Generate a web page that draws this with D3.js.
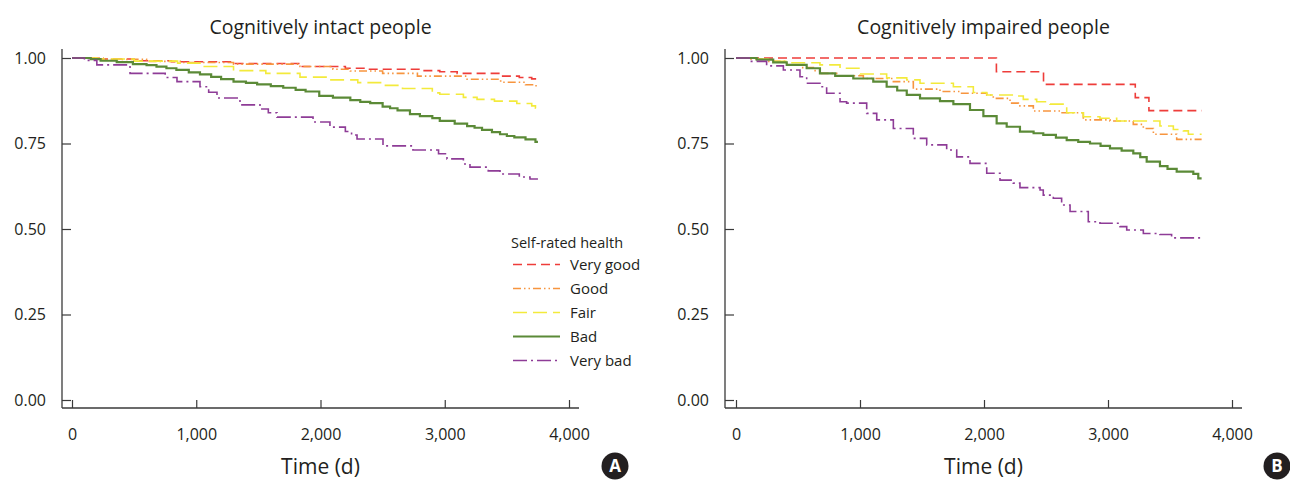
<!DOCTYPE html>
<html>
<head>
<meta charset="utf-8">
<script src="https://cdn.jsdelivr.net/npm/d3@7"></script>
<style>
  body { margin: 0; background: #fff; }
  text { font-family: "Open Sans", "Noto Sans", sans-serif; fill: #231f20; }
</style>
</head>
<body>
<div id="chart"></div>
<script>
// survival curves, [time in days, proportion surviving]
const groups = ["Very good", "Good", "Fair", "Bad", "Very bad"]
const xTicks = [0, 1000, 2000, 3000, 4000]
const yTicks = [0, 0.25, 0.5, 0.75, 1]

const intactVeryGood = [[0,1],[200,0.997],[500,0.992],[800,0.989],[1300,0.984],[1835,0.975],[2200,0.970],[2370,0.967],[2800,0.963],[2960,0.960],[3100,0.955],[3450,0.947],[3600,0.943],[3700,0.939],[3750,0.939]]
const intactGood = [[0,1],[250,0.996],[600,0.990],[900,0.987],[1300,0.982],[1835,0.975],[2100,0.967],[2240,0.962],[2500,0.955],[2780,0.947],[3180,0.938],[3450,0.929],[3650,0.922],[3720,0.919],[3750,0.919]]
const intactFair = [[0,1],[200,0.997],[500,0.991],[850,0.985],[1030,0.975],[1300,0.963],[1560,0.955],[1835,0.944],[2076,0.936],[2300,0.928],[2500,0.920],[2660,0.911],[2900,0.898],[2960,0.894],[3150,0.885],[3260,0.879],[3400,0.874],[3580,0.867],[3700,0.860],[3730,0.853],[3750,0.853]]
const intactBad = [[0,1],[150,0.997],[230,0.992],[360,0.988],[490,0.982],[600,0.979],[680,0.975],[760,0.970],[840,0.965],[940,0.958],[1030,0.952],[1120,0.945],[1200,0.938],[1300,0.931],[1400,0.927],[1490,0.923],[1600,0.918],[1700,0.913],[1800,0.907],[1880,0.902],[1990,0.889],[2100,0.884],[2240,0.877],[2320,0.872],[2400,0.868],[2500,0.858],[2560,0.853],[2620,0.847],[2720,0.836],[2800,0.830],[2900,0.824],[2960,0.816],[3080,0.808],[3180,0.801],[3240,0.796],[3300,0.790],[3380,0.783],[3445,0.777],[3500,0.772],[3560,0.768],[3650,0.762],[3730,0.755],[3750,0.755]]
const intactVeryBad = [[0,1],[100,0.993],[200,0.980],[467,0.955],[750,0.943],[845,0.931],[1030,0.916],[1100,0.900],[1167,0.883],[1352,0.863],[1513,0.851],[1580,0.840],[1650,0.827],[1940,0.813],[2076,0.798],[2200,0.785],[2250,0.775],[2294,0.763],[2503,0.743],[2744,0.731],[2950,0.720],[3018,0.705],[3150,0.690],[3203,0.681],[3350,0.670],[3445,0.661],[3600,0.652],[3686,0.646],[3750,0.646]]

const impairedVeryGood = [[0,1],[2100,0.960],[2480,0.923],[3220,0.884],[3330,0.846],[3755,0.846]]
const impairedGood = [[0,1],[120,0.997],[250,0.990],[409,0.980],[520,0.972],[624,0.963],[677,0.955],[812,0.948],[1027,0.940],[1269,0.931],[1430,0.909],[1645,0.902],[1806,0.897],[2022,0.892],[2075,0.882],[2210,0.868],[2277,0.860],[2398,0.845],[2613,0.840],[2801,0.819],[3016,0.816],[3204,0.806],[3285,0.794],[3366,0.777],[3554,0.762],[3755,0.762]]
const impairedFair = [[0,1],[150,0.997],[300,0.990],[409,0.986],[677,0.980],[839,0.970],[1000,0.953],[1215,0.942],[1377,0.936],[1484,0.926],[1753,0.916],[1914,0.899],[2022,0.892],[2264,0.889],[2317,0.879],[2425,0.872],[2532,0.865],[2667,0.840],[2801,0.828],[2935,0.824],[3070,0.816],[3419,0.801],[3527,0.791],[3608,0.787],[3648,0.777],[3755,0.777]]
const impairedBad = [[0,1],[167,0.995],[300,0.987],[409,0.980],[570,0.970],[677,0.955],[800,0.948],[946,0.940],[1107,0.931],[1215,0.916],[1300,0.905],[1377,0.892],[1484,0.882],[1645,0.874],[1753,0.865],[1887,0.848],[1995,0.830],[2102,0.809],[2183,0.799],[2290,0.785],[2400,0.780],[2478,0.775],[2580,0.767],[2667,0.760],[2760,0.755],[2855,0.750],[2940,0.743],[3016,0.736],[3110,0.729],[3204,0.721],[3260,0.710],[3312,0.697],[3419,0.684],[3480,0.676],[3554,0.668],[3688,0.661],[3728,0.648],[3755,0.648]]
const impairedVeryBad = [[0,1],[113,0.990],[247,0.977],[382,0.965],[516,0.945],[570,0.926],[677,0.916],[731,0.897],[839,0.872],[892,0.868],[1054,0.838],[1135,0.819],[1269,0.794],[1430,0.765],[1538,0.746],[1699,0.731],[1780,0.711],[1887,0.692],[2022,0.663],[2129,0.643],[2236,0.634],[2290,0.621],[2452,0.614],[2478,0.599],[2559,0.590],[2626,0.570],[2694,0.551],[2841,0.521],[2935,0.517],[3097,0.507],[3151,0.497],[3285,0.487],[3419,0.484],[3513,0.474],[3755,0.474]]

const colours = ["#ee3d3a", "#f7953f", "#f3ea3c", "#5b8a37", "#8e3c97"]
const dashes = ["9,5", "8,3,1.5,3,1.5,3", "14,6", null, "14,4,2,4"]
const widths = [1.6, 1.6, 1.6, 2.2, 1.6]

const panels = [
  { title: "Cognitively intact people", badge: "A", axisX: 62, x0: 72, x1: 569, xEnd: 579, badgeX: 615, legend: true,
    series: [intactVeryGood, intactGood, intactFair, intactBad, intactVeryBad] },
  { title: "Cognitively impaired people", badge: "B", axisX: 725, x0: 736, x1: 1232, xEnd: 1242, badgeX: 1277, legend: false,
    series: [impairedVeryGood, impairedGood, impairedFair, impairedBad, impairedVeryBad] }
]

let svg = d3.select("#chart")
  .append("svg")
  .attr("width", 1290)
  .attr("height", 486)

let y = d3.scaleLinear().domain([0, 1]).range([400, 58])
let axisY = 408

panels.forEach(p => {
  let x = d3.scaleLinear().domain([0, 4000]).range([p.x0, p.x1])
  let g = svg.append("g")

  // axis lines, drawn apart from d3's domain path because they overrun the tick range
  g.append("line")
    .attr("x1", p.axisX).attr("x2", p.axisX)
    .attr("y1", 49).attr("y2", axisY)
    .attr("stroke", "#3a3a3a").attr("stroke-width", 1.3)
  g.append("line")
    .attr("x1", p.axisX).attr("x2", p.xEnd)
    .attr("y1", axisY).attr("y2", axisY)
    .attr("stroke", "#3a3a3a").attr("stroke-width", 1.3)

  let ya = g.append("g")
    .attr("transform", "translate(" + p.axisX + ",0)")
    .call(d3.axisLeft(y).tickValues(yTicks).tickFormat(d3.format(".2f")).tickSizeInner(-9).tickSizeOuter(0).tickPadding(16))
  let xa = g.append("g")
    .attr("transform", "translate(0," + axisY + ")")
    .call(d3.axisBottom(x).tickValues(xTicks).tickFormat(d3.format(",")).tickSizeInner(-8).tickSizeOuter(0).tickPadding(21))

  ;[ya, xa].forEach(a => {
    a.select(".domain").remove()
    a.selectAll(".tick line").attr("stroke", "#3a3a3a").attr("stroke-width", 1.2)
    a.selectAll(".tick text").attr("font-family", "Open Sans").attr("font-size", 16).attr("fill", "#231f20")
  })

  let line = d3.line()
    .x(d => x(d[0]))
    .y(d => y(d[1]))
    .curve(d3.curveStepAfter)

  g.selectAll("path.km")
    .data(p.series)
    .enter()
    .append("path")
    .attr("class", "km")
    .attr("d", line)
    .attr("fill", "none")
    .attr("stroke", (d, i) => colours[i])
    .attr("stroke-width", (d, i) => widths[i])
    .attr("stroke-dasharray", (d, i) => dashes[i])

  g.append("text")
    .attr("x", (p.axisX + p.xEnd) / 2)
    .attr("y", 34)
    .attr("text-anchor", "middle")
    .attr("font-size", 19.5)
    .text(p.title)

  g.append("text")
    .attr("x", (p.axisX + p.xEnd) / 2)
    .attr("y", 474)
    .attr("text-anchor", "middle")
    .attr("font-size", 21)
    .text("Time (d)")

  g.append("circle")
    .attr("cx", p.badgeX).attr("cy", 466).attr("r", 13.5)
    .attr("fill", "#231f20")
  g.append("text")
    .attr("x", p.badgeX).attr("y", 472)
    .attr("text-anchor", "middle")
    .attr("font-size", 17)
    .attr("font-weight", "bold")
    .style("fill", "#fff")
    .text(p.badge)

  if (p.legend) {
    let lg = svg.append("g")
    lg.append("text")
      .attr("x", 511).attr("y", 248)
      .attr("font-size", 14.5)
      .text("Self-rated health")
    let row = lg.selectAll("g.item")
      .data(groups)
      .enter()
      .append("g")
      .attr("transform", (d, i) => "translate(0," + (264.5 + i * 24) + ")")
    row.append("line")
      .attr("x1", 513).attr("x2", 560)
      .attr("stroke", (d, i) => colours[i])
      .attr("stroke-width", (d, i) => widths[i])
      .attr("stroke-dasharray", (d, i) => dashes[i])
    row.append("text")
      .attr("x", 570).attr("y", 5.5)
      .attr("font-size", 15)
      .text(d => d)
  }
})
</script>
</body>
</html>
